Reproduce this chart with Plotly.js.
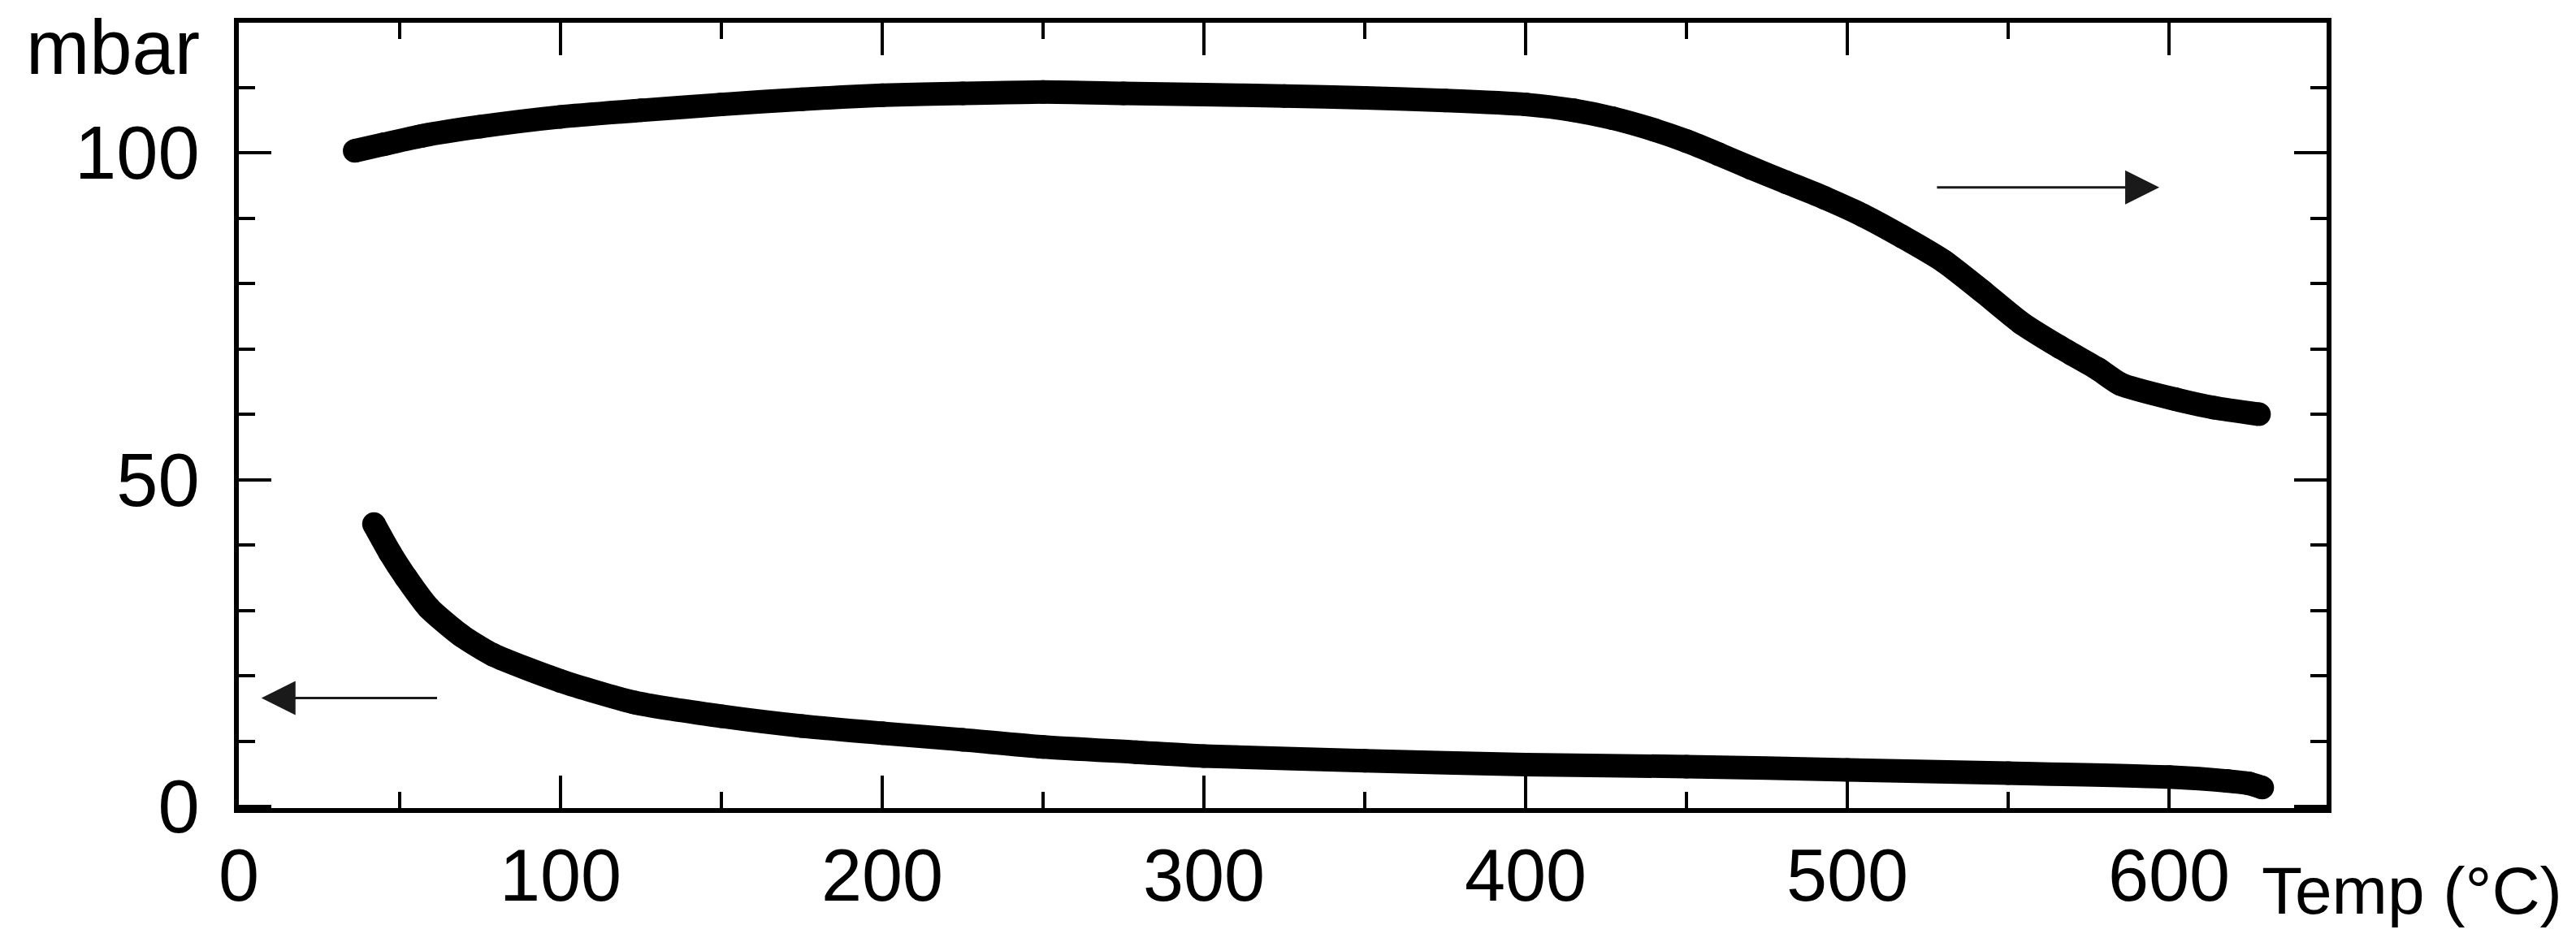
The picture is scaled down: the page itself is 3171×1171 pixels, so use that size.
<!DOCTYPE html>
<html>
<head>
<meta charset="utf-8">
<script src="https://cdn.plot.ly/plotly-3.0.1.min.js"></script>
<style>
  html, body { margin: 0; padding: 0; background: #fff; }
  #chart { width: 3171px; height: 1171px; }
</style>
</head>
<body>
<div id="chart"></div>
<script>
// upper curve (right arrow)
let upperTemp = [36, 45, 57, 75, 100, 125, 150, 175, 200, 225, 250, 275, 300, 325, 350, 375, 400, 415, 427, 440, 450, 460, 470, 481, 493, 505, 517, 530, 542, 554, 566, 578, 585, 602, 614, 628];
let upperMbar = [100.3, 101.3, 102.6, 104.0, 105.5, 106.5, 107.4, 108.2, 108.8, 109.1, 109.3, 109.1, 108.9, 108.7, 108.4, 108.0, 107.4, 106.5, 105.3, 103.5, 101.8, 99.8, 97.7, 95.5, 93.1, 90.4, 87.2, 83.4, 78.8, 74.0, 70.3, 66.9, 64.6, 62.3, 61.0, 60.0];

// lower curve (left arrow)
let lowerTemp = [42, 47, 52, 59, 69, 79, 100, 123, 150, 175, 200, 225, 250, 279, 300, 350, 400, 450, 500, 550, 600, 618, 625, 629];
let lowerMbar = [43.2, 38.8, 35.0, 30.4, 26.2, 23.2, 19.2, 15.9, 13.8, 12.3, 11.2, 10.2, 9.1, 8.3, 7.7, 7.0, 6.4, 6.1, 5.6, 5.1, 4.5, 3.9, 3.5, 2.9];

let yTicks = [0, 50, 100];
let xTicks = [0, 100, 200, 300, 400, 500, 600];

let font = 'Liberation Sans, Arial, sans-serif';

let trace1 = {
    type: 'scatter',
    mode: 'lines+markers',
    x: upperTemp,
    y: upperMbar,
    line: { color: '#000', width: 29, shape: 'spline', smoothing: 0.6 },
    marker: { color: '#000', size: 29 },
    hoverinfo: 'skip'
};

let trace2 = {
    type: 'scatter',
    mode: 'lines+markers',
    x: lowerTemp,
    y: lowerMbar,
    line: { color: '#000', width: 29, shape: 'spline', smoothing: 0.6 },
    marker: { color: '#000', size: 29 },
    hoverinfo: 'skip'
};

let layout = {
    width: 3171,
    height: 1171,
    margin: { l: 294, r: 307, t: 28, b: 176 },
    paper_bgcolor: '#fff',
    plot_bgcolor: '#fff',
    showlegend: false,
    font: { family: font, color: '#000' },
    xaxis: {
        range: [0, 649],
        tickvals: xTicks,
        ticks: 'inside',
        ticklen: 40,
        tickwidth: 4,
        tickcolor: '#000',
        minor: { dtick: 50, ticks: 'inside', ticklen: 20, tickwidth: 4, tickcolor: '#000' },
        showline: true,
        linewidth: 6,
        linecolor: '#000',
        mirror: 'ticks',
        showgrid: false,
        zeroline: false,
        tickfont: { family: font, size: 90, color: '#000' }
    },
    yaxis: {
        range: [-0.25, 119.9],
        tickvals: yTicks,
        ticks: 'inside',
        ticklen: 40,
        tickwidth: 4,
        tickcolor: '#000',
        minor: { dtick: 10, ticks: 'inside', ticklen: 20, tickwidth: 4, tickcolor: '#000' },
        showline: true,
        linewidth: 6,
        linecolor: '#000',
        mirror: 'ticks',
        showgrid: false,
        zeroline: false,
        ticklabelstandoff: 24,
        tickfont: { family: font, size: 92, color: '#000' }
    },
    annotations: [
        {
            xref: 'paper', yref: 'paper',
            x: -0.018, y: 0.968,
            xanchor: 'right', yanchor: 'middle',
            text: 'mbar', showarrow: false,
            font: { family: font, size: 94, color: '#000' }
        },
        {
            xref: 'paper', yref: 'paper',
            x: 1.0408, y: -0.105,
            xanchor: 'center', yanchor: 'middle',
            text: 'Temp (°C)', showarrow: false,
            font: { family: font, size: 82, color: '#000' }
        },
        {
            // left-pointing arrow for the lower curve
            x: 7, y: 16.6, xref: 'x', yref: 'y',
            ax: 62, ay: 16.6, axref: 'x', ayref: 'y',
            text: '', showarrow: true,
            arrowhead: 2, arrowsize: 2.8, arrowwidth: 3, arrowcolor: '#1a1a1a'
        },
        {
            // right-pointing arrow for the upper curve
            x: 597, y: 94.7, xref: 'x', yref: 'y',
            ax: 527.5, ay: 94.7, axref: 'x', ayref: 'y',
            text: '', showarrow: true,
            arrowhead: 2, arrowsize: 2.8, arrowwidth: 3, arrowcolor: '#1a1a1a'
        }
    ]
};

Plotly.newPlot('chart', [trace1, trace2], layout, { staticPlot: true });
</script>
</body>
</html>
